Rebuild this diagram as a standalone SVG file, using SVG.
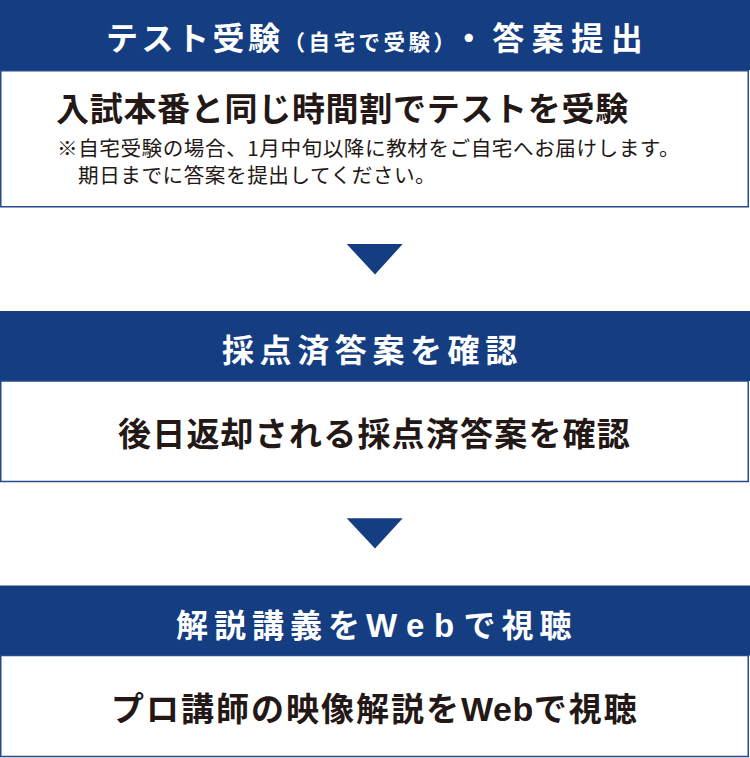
<svg xmlns="http://www.w3.org/2000/svg" width="750" height="758" viewBox="0 0 750 758">
<style>
.hd{fill:#143d82}
.bd{fill:#fff;stroke:#24498c;stroke-width:1.5}
.ht{fill:#fff;font-family:"Noto Sans CJK JP","Noto Sans",sans-serif;font-weight:700;font-size:32px}
.bt{fill:#231815;font-family:"Noto Sans CJK JP","Noto Sans",sans-serif;font-weight:700;font-size:33px}
.nt{fill:#231815;font-family:"Noto Sans CJK JP","Noto Sans",sans-serif;font-weight:400;font-size:20.6px;letter-spacing:0.55px}
.lat{font-family:"Liberation Sans",Arial,sans-serif;font-weight:700}
.ar{fill:#143d82}
</style>
<g id="step1">
<rect class="hd" x="0" y="0" width="750" height="70"/>
<rect class="bd" x="0.75" y="70.75" width="747.5" height="136"/>
<text class="ht" x="106" y="50"><tspan letter-spacing="3.5px">テスト受験</tspan><tspan font-size="21.5px" letter-spacing="3.5px">（自宅で受験）</tspan><tspan dx="5" letter-spacing="7.5px">・答案提出</tspan></text>
<text class="bt" x="56" y="121" letter-spacing="0.7px">入試本番と同じ時間割でテストを受験</text>
<text class="nt" x="57" y="156">※自宅受験の場合、1月中旬以降に教材をご自宅へお届けします。</text>
<text class="nt" x="78" y="182.5">期日までに答案を提出してください。</text>
</g>
<g id="step2">
<rect class="hd" x="0" y="311" width="750" height="70"/>
<rect class="bd" x="0.75" y="381" width="747.5" height="100.5"/>
<text class="ht" x="222" y="362" letter-spacing="5.6px">採点済答案を確認</text>
<text class="bt" x="118" y="446" letter-spacing="1.2px">後日返却される採点済答案を確認</text>
</g>
<g id="step3">
<rect class="hd" x="0" y="585.5" width="750" height="70"/>
<rect class="bd" x="0.75" y="655.5" width="747.5" height="101"/>
<text class="ht" x="176" y="637"><tspan letter-spacing="6px">解説講義を</tspan><tspan class="lat" font-size="33px" letter-spacing="9.5px">Web</tspan><tspan letter-spacing="6px">で視聴</tspan></text>
<text class="bt" x="111" y="721" letter-spacing="2px">プロ講師の映像解説を<tspan class="lat" font-size="34px" letter-spacing="0.5px">Web</tspan>で視聴</text>
</g>
<g id="connectors">
<polygon class="ar" points="346.7,244 402.7,244 375,274.5"/>
<polygon class="ar" points="346.7,518.3 402.7,518.3 375,548.5"/>
</g>
</svg>
